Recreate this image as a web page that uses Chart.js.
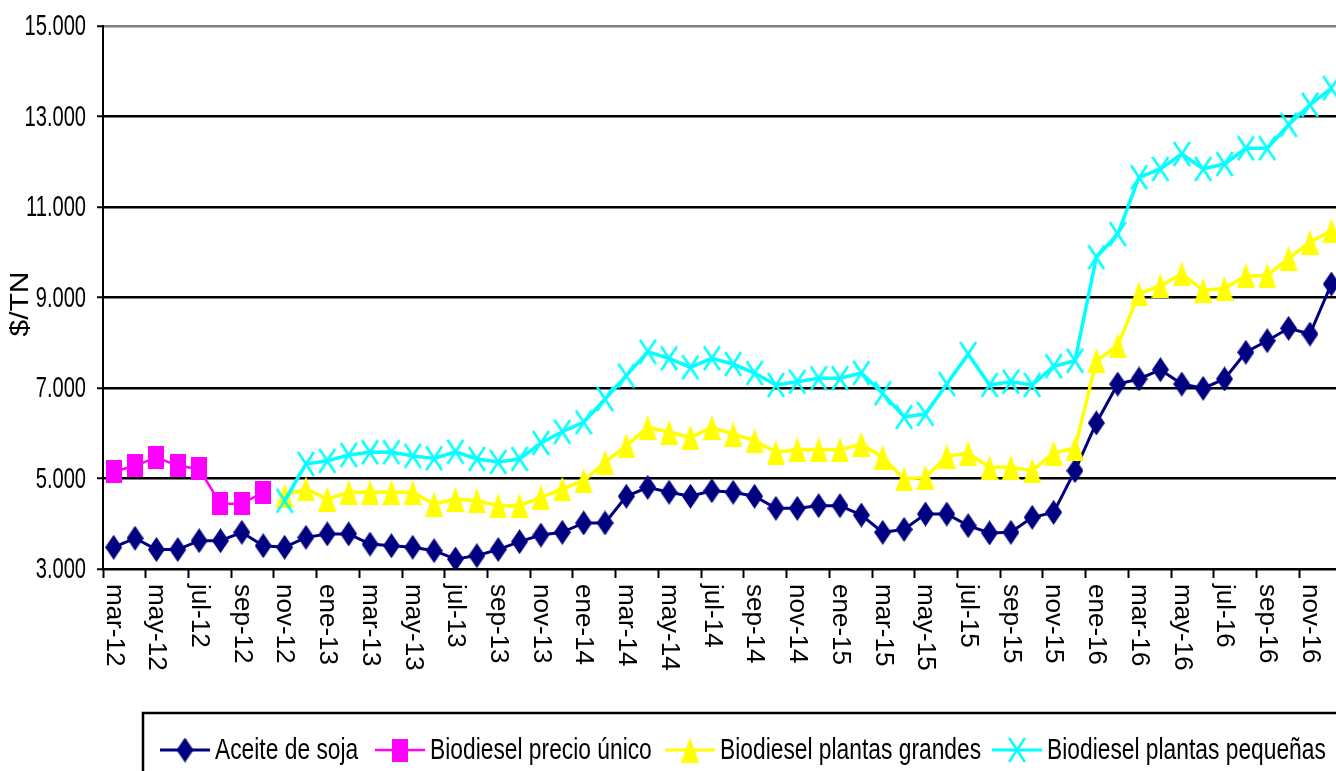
<!DOCTYPE html>
<html><head><meta charset="utf-8">
<script src="https://cdn.jsdelivr.net/npm/chart.js@4.4.0/dist/chart.umd.min.js"></script>
<style>
html,body{margin:0;padding:0;background:#fff;overflow:hidden;width:1336px;height:771px}
canvas{display:block}
</style></head>
<body>
<canvas id="c" width="1360" height="771" style="width:1360px;height:771px"></canvas>
<script>
// ---------- DATA ----------
const categories = [
  'mar-12','abr-12','may-12','jun-12','jul-12','ago-12','sep-12','oct-12','nov-12','dic-12',
  'ene-13','feb-13','mar-13','abr-13','may-13','jun-13','jul-13','ago-13','sep-13','oct-13','nov-13','dic-13',
  'ene-14','feb-14','mar-14','abr-14','may-14','jun-14','jul-14','ago-14','sep-14','oct-14','nov-14','dic-14',
  'ene-15','feb-15','mar-15','abr-15','may-15','jun-15','jul-15','ago-15','sep-15','oct-15','nov-15','dic-15',
  'ene-16','feb-16','mar-16','abr-16','may-16','jun-16','jul-16','ago-16','sep-16','oct-16','nov-16','dic-16'
];
const aceiteSoja = [3480,3680,3430,3430,3625,3625,3810,3515,3480,3700,
  3775,3775,3550,3515,3480,3405,3220,3295,3430,3604,
  3751,3810,4017,4017,4607,4805,4695,4607,4730,4695,
  4607,4341,4341,4400,4400,4193,3810,3875,4215,4215,
  3958,3796,3810,4142,4252,5173,6227,7088,7199,7404,
  7088,6993,7199,7789,8045,8319,8193,9298];
const precioUnico = [5150,5280,5470,5280,5210,4440,4440,4700,
  null,null,null,null,null,null,null,null,null,null,null,null,null,null,null,null,null,
  null,null,null,null,null,null,null,null,null,null,null,null,null,null,null,null,null,
  null,null,null,null,null,null,null,null,null,null,null,null,null,null,null,null];
const plantasGrandes = [null,null,null,null,null,null,null,null,4620,4770,
  4545,4695,4695,4695,4695,4436,4545,4510,4400,4400,
  4584,4768,4951,5358,5725,6131,6021,5910,6131,5983,
  5836,5579,5637,5637,5637,5762,5470,4989,5026,5490,
  5563,5247,5247,5173,5563,5667,7603,7935,9080,9261,
  9520,9160,9200,9482,9482,9866,10220,10477];
const plantasPequenas = [null,null,null,null,null,null,null,null,4510,5320,
  5390,5520,5580,5580,5500,5445,5590,5431,5365,5431,
  5785,6034,6242,6757,7272,7802,7656,7457,7656,7530,
  7331,7066,7140,7215,7215,7331,6880,6360,6425,7088,
  7751,7066,7140,7066,7480,7603,9888,10403,11656,11840,
  12171,11840,11950,12297,12297,12818,13260,13624];
const seriesNames = ['Aceite de soja','Biodiesel precio único','Biodiesel plantas grandes','Biodiesel plantas pequeñas'];
const yTickLabels = ['3.000','5.000','7.000','9.000','11.000','13.000','15.000'];
const yAxisTitle = '$/TN';

// ---------- MARKERS ----------
function mk(w,h,draw){const c=document.createElement('canvas');c.width=w;c.height=h;draw(c.getContext('2d'),w,h);return c;}
const NAVY='#000080', MAG='#FF00FF', YEL='#FFFF00', CYA='#00FFFF';
const mDiamond = mk(17,25,(g,w,h)=>{g.fillStyle=NAVY;g.beginPath();g.moveTo(w/2,0);g.lineTo(w,h/2);g.lineTo(w/2,h);g.lineTo(0,h/2);g.closePath();g.fill();});
const mSquare = mk(16,23,(g,w,h)=>{g.fillStyle=MAG;g.fillRect(0,0,w,h);});
const mTri = mk(18,25,(g,w,h)=>{g.fillStyle=YEL;g.beginPath();g.moveTo(w/2,0);g.lineTo(w,h);g.lineTo(0,h);g.closePath();g.fill();});
const mX = mk(18,26,(g,w,h)=>{g.strokeStyle=CYA;g.lineWidth=2.6;g.beginPath();g.moveTo(1,1);g.lineTo(w-1,h-1);g.moveTo(w-1,1);g.lineTo(1,h-1);g.stroke();});

const FONT='"Liberation Sans", Arial, sans-serif';
function txt(ctx,s,x,y,o){
  ctx.save();ctx.translate(x,y);ctx.rotate(o.rot||0);ctx.scale(o.sx||1,o.sy||1);
  ctx.font=(o.bold?'bold ':'')+o.size+'px '+FONT;
  ctx.textAlign=o.align||'left';ctx.textBaseline=o.baseline||'middle';ctx.fillStyle='#000';
  ctx.fillText(s,0,0);ctx.restore();
}

const textPlugin = {
  id:'textPlugin',
  afterDraw(chart){
    const ctx=chart.ctx, ys=chart.scales.y, xs=chart.scales.x;
    // y tick labels
    yTickLabels.forEach(l=>{
      const v=parseInt(l.replace('.',''),10);
      txt(ctx,l,86,ys.getPixelForValue(v)+1,{size:30,sx:0.67,align:'right'});
    });
    // x tick labels (every second month), rotated clockwise
    categories.forEach((c,i)=>{
      if(i%2!==0) return;
      txt(ctx,c,xs.getPixelForValue(i),584,{size:26,rot:Math.PI/2,align:'left'});
    });
    // y title
    txt(ctx,yAxisTitle,21,304,{size:25,sx:1.2,rot:-Math.PI/2,align:'center'});
    // legend
    ctx.save();ctx.strokeStyle='#000';ctx.lineWidth=2.5;ctx.strokeRect(143,713,1300,100);ctx.restore();
    const lx=[160,375,665,992], cols=[NAVY,MAG,YEL,CYA], mks=[mDiamond,mSquare,mTri,mX], lw=[3,2.5,3,3];
    const ly=750;
    seriesNames.forEach((n,k)=>{
      ctx.save();ctx.strokeStyle=cols[k];ctx.lineWidth=lw[k];
      ctx.beginPath();ctx.moveTo(lx[k],ly);ctx.lineTo(lx[k]+50,ly);ctx.stroke();
      const m=mks[k];ctx.drawImage(m,lx[k]+25-m.width/2,ly-m.height/2);ctx.restore();
      txt(ctx,n,lx[k]+55,ly+1,{size:30,sx:0.76,align:'left'});
    });
  }
};

new Chart(document.getElementById('c'),{
  type:'line',
  data:{
    labels:categories,
    datasets:[
      {label:seriesNames[0],data:aceiteSoja,borderColor:NAVY,borderWidth:3,pointStyle:mDiamond,pointRadius:8,order:3,tension:0,spanGaps:false},
      {label:seriesNames[1],data:precioUnico,borderColor:MAG,borderWidth:2.5,pointStyle:mSquare,pointRadius:8,order:2,tension:0,spanGaps:false},
      {label:seriesNames[2],data:plantasGrandes,borderColor:YEL,borderWidth:3.5,pointStyle:mTri,pointRadius:8,order:1,tension:0,spanGaps:false},
      {label:seriesNames[3],data:plantasPequenas,borderColor:CYA,borderWidth:3.5,pointStyle:mX,pointRadius:8,order:0,tension:0,spanGaps:false}
    ]
  },
  options:{
    responsive:false,animation:false,devicePixelRatio:1,
    layout:{padding:{top:26,right:18,left:0,bottom:0}},
    plugins:{legend:{display:false},tooltip:{enabled:false},title:{display:false}},
    scales:{
      x:{type:'category',offset:true,
        grid:{offset:true,drawOnChartArea:false,drawTicks:true,tickLength:9,tickWidth:2,
          tickColor:(c)=>(c.index%2===0?'#000':'rgba(0,0,0,0)')},
        border:{display:true,color:'#000',width:2},
        ticks:{display:false,autoSkip:false},
        afterFit:(s)=>{s.height=771-569;}
      },
      y:{min:3000,max:15000,
        ticks:{display:false,stepSize:2000},
        grid:{color:(c)=>(c.tick&&c.tick.value===15000?'#7f7f7f':'#000'),lineWidth:2.5,drawTicks:true,tickLength:6,tickWidth:2,tickColor:'#000'},
        border:{display:true,color:'#000',width:2},
        afterFit:(s)=>{s.width=103;}
      }
    }
  },
  plugins:[textPlugin]
});
</script>
</body></html>
